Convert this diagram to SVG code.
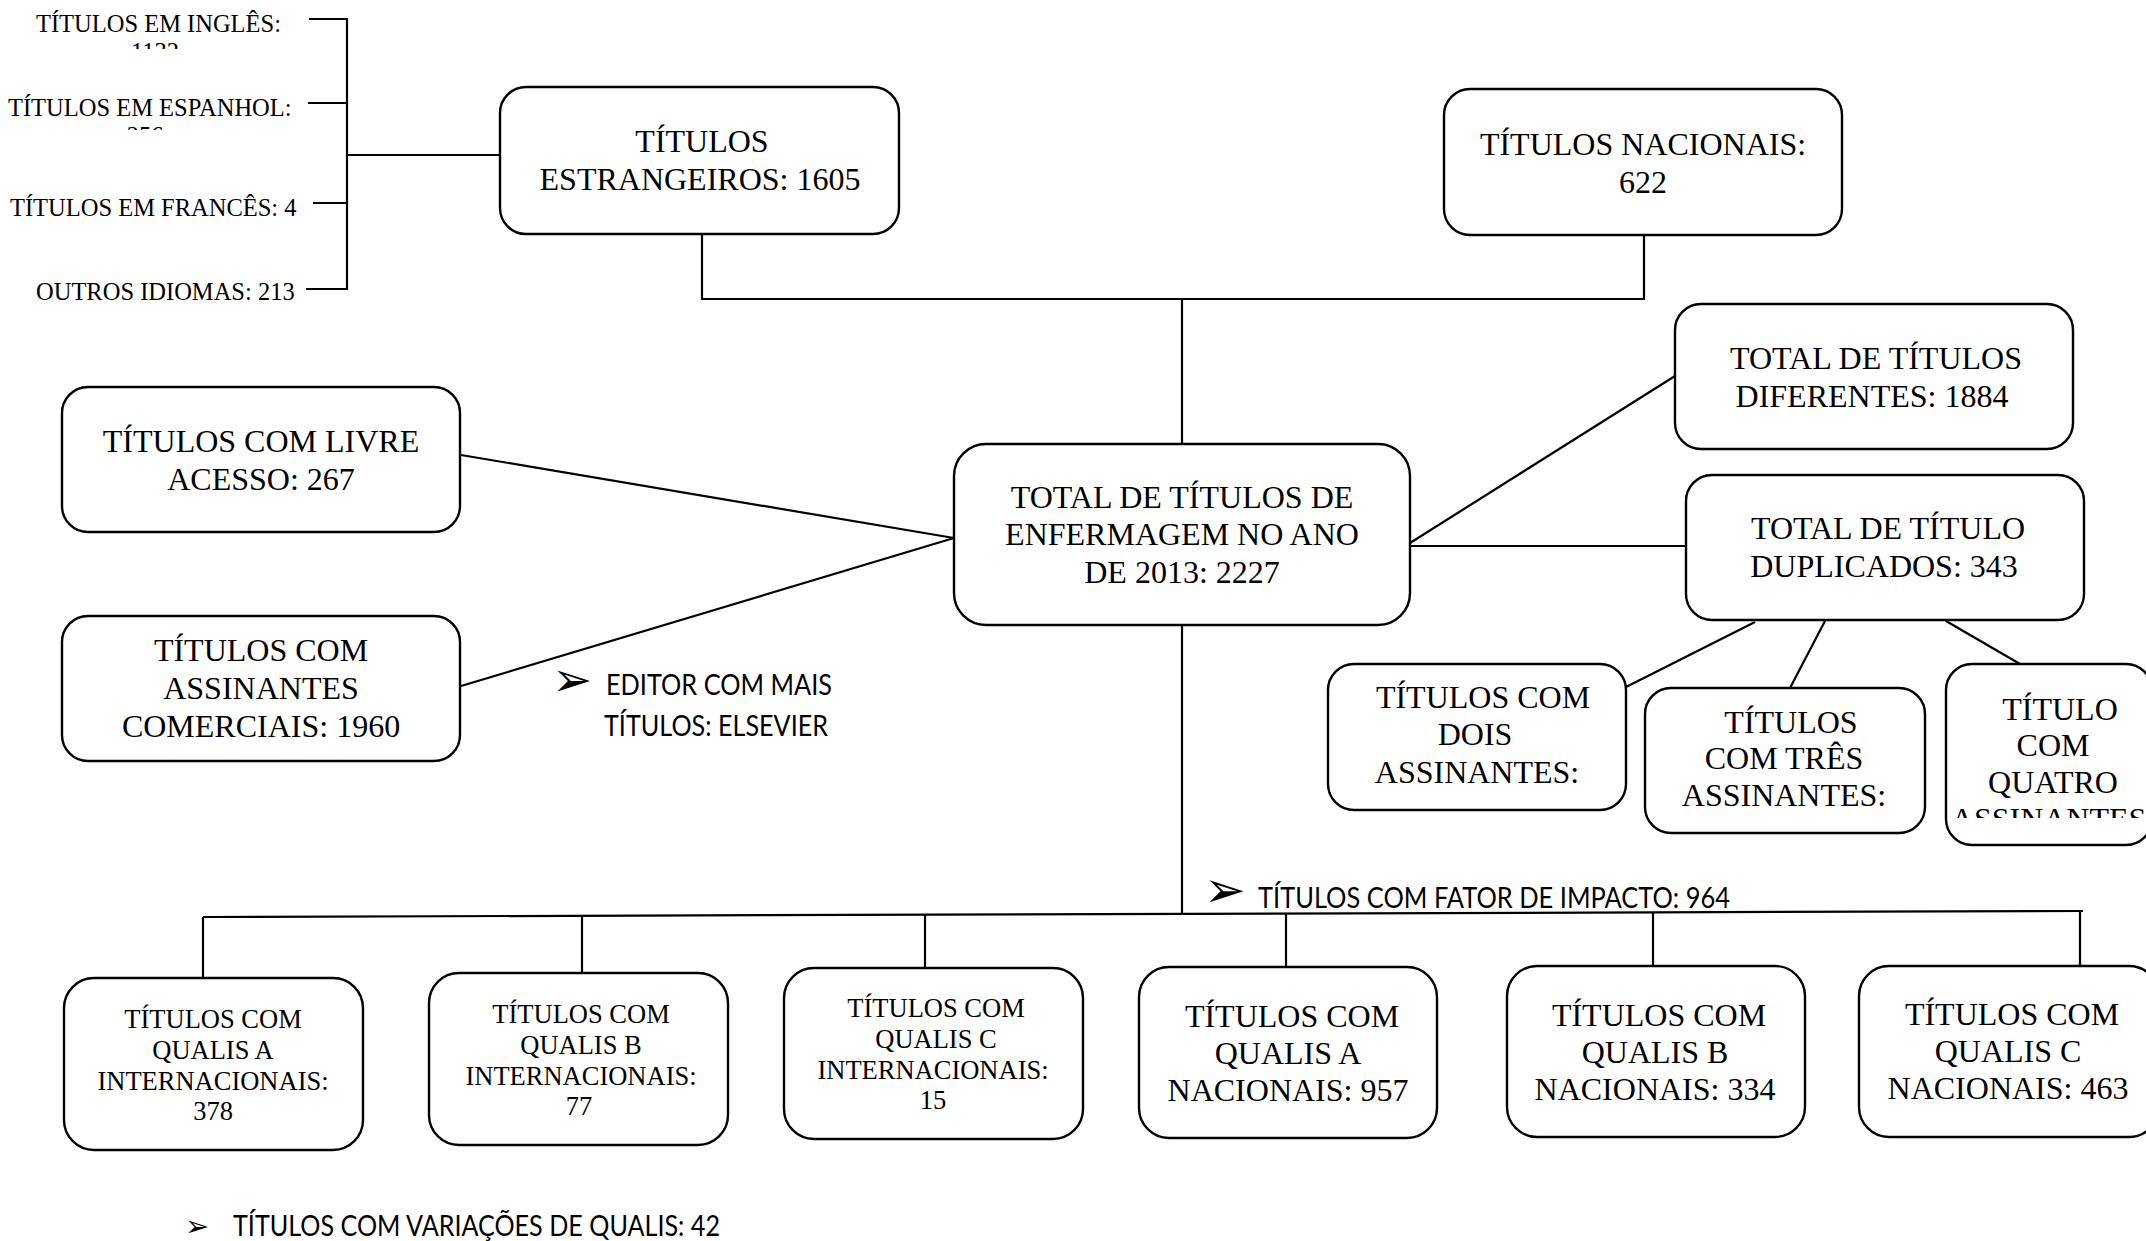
<svg xmlns="http://www.w3.org/2000/svg" width="2146" height="1241" viewBox="0 0 2146 1241">
<defs>
<style>
.bg{fill:#fff}
.box{fill:#fff;stroke:#000;stroke-width:2.4}
.c{fill:none;stroke:#000;stroke-width:2.2}
.t{font-family:"Liberation Serif","Times New Roman",serif;font-size:32px;text-anchor:middle;fill:#000}
.ts{font-family:"Liberation Serif","Times New Roman",serif;font-size:26.5px;text-anchor:middle;fill:#000}
.tl{font-family:"Liberation Serif","Times New Roman",serif;font-size:24.5px;fill:#000}
.sans{font-family:Lato,"Liberation Sans",sans-serif;font-size:29px;fill:#000}
.bul{font-family:"DejaVu Sans",sans-serif;fill:#000}
</style>
<clipPath id="clipIng"><rect x="0" y="0" width="340" height="49"/></clipPath>
<clipPath id="clipEsp"><rect x="0" y="80" width="340" height="50"/></clipPath>
<clipPath id="clipQua"><rect x="1946" y="664" width="200" height="154"/></clipPath>
</defs>
<rect class="bg" x="0" y="0" width="2146" height="1241"/>

<g id="connectors">
<polyline class="c" points="309,19 347,19 347,289 306,289"/>
<line class="c" x1="308" y1="103" x2="347" y2="103"/>
<line class="c" x1="313" y1="203" x2="347" y2="203"/>
<line class="c" x1="347" y1="155" x2="500" y2="155"/>
<polyline class="c" points="702,235 702,299 1644,299 1644,236"/>
<line class="c" x1="1182" y1="299" x2="1182" y2="444"/>
<line class="c" x1="461" y1="455" x2="954" y2="538"/>
<line class="c" x1="461" y1="686" x2="954" y2="538"/>
<line class="c" x1="1410" y1="543" x2="1675" y2="376"/>
<line class="c" x1="1410" y1="546" x2="1686" y2="546"/>
<line class="c" x1="1755" y1="622" x2="1626" y2="687"/>
<line class="c" x1="1825" y1="621" x2="1790" y2="688"/>
<line class="c" x1="1946" y1="621" x2="2020" y2="664"/>
<line class="c" x1="1182" y1="625" x2="1182" y2="914"/>
<line class="c" x1="203" y1="917" x2="2083" y2="911"/>
<line class="c" x1="203" y1="917" x2="203" y2="978"/>
<line class="c" x1="582" y1="916" x2="582" y2="973"/>
<line class="c" x1="925" y1="915" x2="925" y2="968"/>
<line class="c" x1="1286" y1="914" x2="1286" y2="967"/>
<line class="c" x1="1653" y1="913" x2="1653" y2="965"/>
<line class="c" x1="2080" y1="911" x2="2080" y2="965"/>
</g>

<g id="lang-list">
<text class="tl" x="36" y="32">TÍTULOS EM INGLÊS:</text>
<text class="tl" x="155" y="60" text-anchor="middle" clip-path="url(#clipIng)">1132</text>
<text class="tl" x="8" y="116">TÍTULOS EM ESPANHOL:</text>
<text class="tl" x="145" y="144" text-anchor="middle" clip-path="url(#clipEsp)">256</text>
<text class="tl" x="10" y="216">TÍTULOS EM FRANCÊS: 4</text>
<text class="tl" x="36" y="300">OUTROS IDIOMAS: 213</text>
</g>

<g id="estrangeiros">
<rect class="box" x="500" y="87" width="399" height="147" rx="26"/>
<text class="t" x="702" y="152">TÍTULOS</text>
<text class="t" x="700" y="190">ESTRANGEIROS: 1605</text>
</g>

<g id="nacionais">
<rect class="box" x="1444" y="89" width="398" height="146" rx="26"/>
<text class="t" x="1643" y="155">TÍTULOS NACIONAIS:</text>
<text class="t" x="1643" y="193">622</text>
</g>

<g id="total">
<rect class="box" x="954" y="444" width="456" height="181" rx="32"/>
<text class="t" x="1182" y="508">TOTAL DE TÍTULOS DE</text>
<text class="t" x="1182" y="545">ENFERMAGEM NO ANO</text>
<text class="t" x="1182" y="583">DE 2013: 2227</text>
</g>

<g id="livre">
<rect class="box" x="62" y="387" width="398" height="145" rx="26"/>
<text class="t" x="261" y="452">TÍTULOS COM LIVRE</text>
<text class="t" x="261" y="490">ACESSO: 267</text>
</g>

<g id="comerciais">
<rect class="box" x="62" y="616" width="398" height="145" rx="26"/>
<text class="t" x="261" y="661">TÍTULOS COM</text>
<text class="t" x="261" y="699">ASSINANTES</text>
<text class="t" x="261" y="737">COMERCIAIS: 1960</text>
</g>

<g id="editor-note">
<text class="bul" x="552" y="696" font-size="48">➢</text>
<text class="sans" x="606" y="695" textLength="226" lengthAdjust="spacingAndGlyphs">EDITOR COM MAIS</text>
<text class="sans" x="604" y="736" textLength="224" lengthAdjust="spacingAndGlyphs">TÍTULOS: ELSEVIER</text>
</g>

<g id="diferentes">
<rect class="box" x="1675" y="304" width="398" height="145" rx="26"/>
<text class="t" x="1876" y="369">TOTAL DE TÍTULOS</text>
<text class="t" x="1872" y="407">DIFERENTES: 1884</text>
</g>

<g id="duplicados">
<rect class="box" x="1686" y="475" width="398" height="145" rx="26"/>
<text class="t" x="1888" y="539">TOTAL DE TÍTULO</text>
<text class="t" x="1884" y="577">DUPLICADOS: 343</text>
</g>

<g id="dois">
<rect class="box" x="1328" y="664" width="298" height="146" rx="26"/>
<text class="t" x="1483" y="708">TÍTULOS COM</text>
<text class="t" x="1475" y="745">DOIS</text>
<text class="t" x="1477" y="783">ASSINANTES:</text>
</g>

<g id="tres">
<rect class="box" x="1645" y="688" width="280" height="145" rx="26"/>
<text class="t" x="1791" y="733">TÍTULOS</text>
<text class="t" x="1784" y="769">COM TRÊS</text>
<text class="t" x="1784" y="806">ASSINANTES:</text>
</g>

<g id="quatro">
<rect class="box" x="1946" y="664" width="206" height="181" rx="26"/>
<text class="t" x="2060" y="720">TÍTULO</text>
<text class="t" x="2053" y="756">COM</text>
<text class="t" x="2053" y="793">QUATRO</text>
<text class="t" x="2053" y="830" clip-path="url(#clipQua)">ASSINANTES:</text>
</g>

<g id="fator-note">
<text class="bul" x="1204" y="907" font-size="50">➢</text>
<text class="sans" x="1258" y="908" textLength="472" lengthAdjust="spacingAndGlyphs">TÍTULOS COM FATOR DE IMPACTO: 964</text>
</g>

<g id="qa-int">
<rect class="box" x="64" y="978" width="299" height="172" rx="30"/>
<text class="ts" x="213" y="1028">TÍTULOS COM</text>
<text class="ts" x="213" y="1059">QUALIS A</text>
<text class="ts" x="213" y="1090">INTERNACIONAIS:</text>
<text class="ts" x="213" y="1120">378</text>
</g>

<g id="qb-int">
<rect class="box" x="429" y="973" width="299" height="172" rx="30"/>
<text class="ts" x="581" y="1023">TÍTULOS COM</text>
<text class="ts" x="581" y="1054">QUALIS B</text>
<text class="ts" x="581" y="1085">INTERNACIONAIS:</text>
<text class="ts" x="579" y="1115">77</text>
</g>

<g id="qc-int">
<rect class="box" x="784" y="968" width="299" height="171" rx="30"/>
<text class="ts" x="936" y="1017">TÍTULOS COM</text>
<text class="ts" x="936" y="1048">QUALIS C</text>
<text class="ts" x="933" y="1079">INTERNACIONAIS:</text>
<text class="ts" x="933" y="1109">15</text>
</g>

<g id="qa-nac">
<rect class="box" x="1139" y="967" width="298" height="171" rx="30"/>
<text class="t" x="1292" y="1027">TÍTULOS COM</text>
<text class="t" x="1288" y="1064">QUALIS A</text>
<text class="t" x="1288" y="1101">NACIONAIS: 957</text>
</g>

<g id="qb-nac">
<rect class="box" x="1507" y="966" width="298" height="171" rx="30"/>
<text class="t" x="1659" y="1026">TÍTULOS COM</text>
<text class="t" x="1655" y="1063">QUALIS B</text>
<text class="t" x="1655" y="1100">NACIONAIS: 334</text>
</g>

<g id="qc-nac">
<rect class="box" x="1859" y="966" width="300" height="171" rx="30"/>
<text class="t" x="2012" y="1025">TÍTULOS COM</text>
<text class="t" x="2008" y="1062">QUALIS C</text>
<text class="t" x="2008" y="1099">NACIONAIS: 463</text>
</g>

<g id="variacoes-note">
<text class="bul" x="185" y="1236" font-size="29">➢</text>
<text class="sans" x="233" y="1236" textLength="487" lengthAdjust="spacingAndGlyphs">TÍTULOS COM VARIAÇÕES DE QUALIS: 42</text>
</g>
</svg>
